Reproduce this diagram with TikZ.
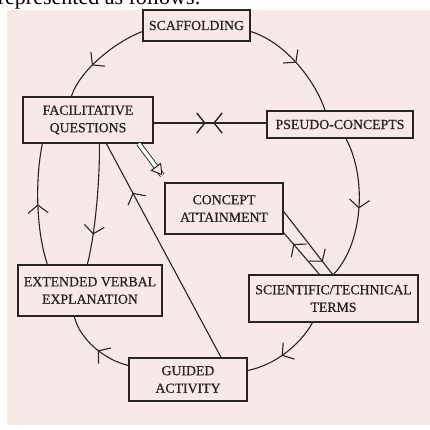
\documentclass[tikz,border=0pt]{standalone}
\usepackage{fontspec}
\setmainfont{Liberation Serif}
\newfontfamily\boxfont[FakeBold=0.8]{Liberation Serif}
\usepackage{xcolor}
\definecolor{paper}{RGB}{248,233,233}
\definecolor{ink}{RGB}{40,36,36}
\usepackage{tikz}
\usetikzlibrary{arrows.meta, calc, decorations.markings}

\begin{document}
\begin{tikzpicture}[x=1pt, y=-1pt, line width=1.1pt, color=ink,
  box/.style={draw, line width=1.3pt, inner sep=0pt, align=center,
    font=\boxfont\fontsize{13.8}{17.5}\selectfont},
  midarrow/.style={postaction={decorate}, decoration={markings,
    mark=at position #1 with {\arrow{Straight Barb[length=8pt,width=20pt]}}}},
  backarrow/.style={postaction={decorate}, decoration={markings,
    mark=at position #1 with {\arrowreversed{Straight Barb[length=8pt,width=20pt]}}}}]
  \clip (0,0) rectangle (430,430);
  \fill[white] (0,0) rectangle (430,430);
  \fill[paper] (7,10) rectangle (430,425);
  \node[anchor=base west, font=\fontsize{22}{24}\selectfont, text=black] (head) at (-6,5) {represented as follows:};
  % boxes
  \node[box, minimum width=107, minimum height=31] (scaff) at (196.5,25.5) {SCAFFOLDING};
  \node[box, minimum width=130, minimum height=46] (facil) at (88,120) {FACILITATIVE\\QUESTIONS};
  \node[box, minimum width=146, minimum height=27] (pseudo) at (340,124.5) {PSEUDO-CONCEPTS};
  \node[box, minimum width=118, minimum height=51] (concept) at (224,208.5) {CONCEPT\\ATTAINMENT};
  \node[box, minimum width=144, minimum height=51] (extend) at (90,290.5) {EXTENDED VERBAL\\EXPLANATION};
  \node[box, minimum width=169, minimum height=47] (scient) at (333.5,298.5) {SCIENTIFIC/TECHNICAL\\TERMS};
  \node[box, minimum width=118, minimum height=43] (guided) at (188,379.5) {GUIDED\\ACTIVITY};
  % outer ring
  \draw[midarrow=0.62] ($(scaff.west)+(0,6)$) .. controls (115,42) and (80,70) .. ($(facil.north west)+(49,0)$);
  \draw[midarrow=0.5] ($(scaff.east)+(0,6)$) .. controls (285,42) and (315,80) .. ($(pseudo.north)+(-15,0)$);
  \draw[midarrow=0.5] ($(pseudo.south)+(6,0)$) .. controls (368,180) and (362,245) .. ($(scient.north)+(0,0)$);
  \draw[midarrow=0.55] ($(scient.south)+(-21,0)$) .. controls (300,345) and (275,365) .. ($(guided.east)+(0,-9)$);
  \draw[midarrow=0.45] ($(guided.west)+(0,-14)$) .. controls (105,360) and (80,340) .. ($(extend.south west)+(57,0)$);
  \draw[midarrow=0.5] ($(extend.north west)+(30,0)$) .. controls (36,230) and (35,180) .. ($(facil.south west)+(20,0)$);
  \draw[midarrow=0.75] ($(facil.south west)+(77,0)$) .. controls (100,175) and (96,230) .. ($(extend.north west)+(70,0)$);
  % inner links
  \draw[midarrow=0.46, backarrow=0.53] (facil.east |- 0,123) -- (pseudo.west |- 0,123);
  \coordinate (dstart) at ($(facil.south east)+(-15,0)$);
  \coordinate (dend) at ($(concept.north west)+(-2,-7)$);
  \draw[double, double distance=3.5pt, line width=0.9pt] (dstart) -- (dend);
  \draw[line width=1pt, -{Triangle[open, fill=paper, length=11pt, width=13pt]}] ($(dstart)!0.85!(dend)$) -- (dend);
  \draw[midarrow=0.77] (guided.north -| 221,0) -- ($(facil.south west)+(84,0)$);
  \draw[midarrow=0.8] ($(concept.east)+(0,3)$) -- ($(scient.north)+(-1,0)$);
  \draw[midarrow=0.73] ($(scient.north west)+(71,0)$) -- ($(concept.south east)+(0,-2)$);
\end{tikzpicture}
\end{document}
